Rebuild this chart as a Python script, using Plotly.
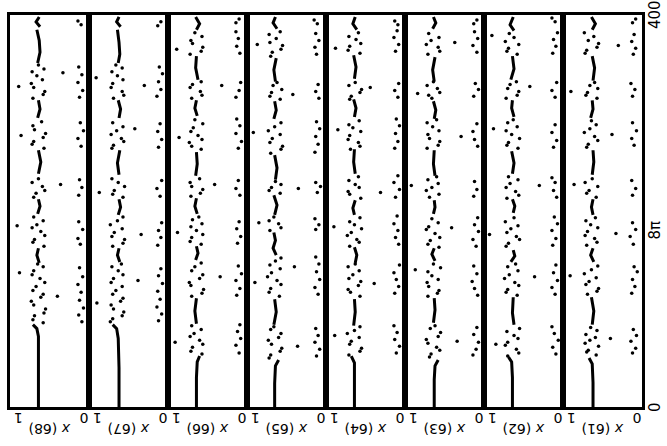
import plotly.graph_objects as go
from plotly.subplots import make_subplots

# panels, left to right
panel_names = ["68", "67", "66", "65", "64", "63", "62", "61"]

# time-axis tick labels
t_tickvals = [0, 180, 400]
t_ticktext = ["0", "8\u03c0", "400"]

# value-axis tick labels (per panel)
v_tickvals = [0.95, 0.12]
v_ticktext = ["1", "0"]

# main (slow) trace of each unit: (t, value), None = gap
main_61 = [(0,0.62),(25,0.62),(44,0.63),(50,0.67),None,(84,0.63),(98,0.61),(112,0.64),None,(148,0.61),(155,0.65),(162,0.62),None,(196,0.62),(204,0.64),(212,0.62),None,(237,0.63),(250,0.61),(262,0.62),None,(295,0.65),(304,0.62),(313,0.63),None,(333,0.62),(346,0.60),(358,0.63),None,(385,0.63),(391,0.59),(398,0.64)]
main_62 = [(0,0.64),(30,0.64),(46,0.65),(51,0.69),None,(84,0.62),(96,0.64),(112,0.63),None,(148,0.66),(154,0.61),(160,0.63),None,(198,0.63),(205,0.61),(212,0.64),None,(238,0.64),(249,0.62),(261,0.65),None,(296,0.62),(305,0.65),(313,0.64),None,(334,0.66),(345,0.62),(358,0.64),None,(384,0.62),(390,0.67),(398,0.63)]
main_63 = [(0,0.63),(28,0.63),(42,0.62),(48,0.58),None,(86,0.64),(99,0.62),(111,0.63),None,(149,0.62),(156,0.66),(162,0.63),None,(197,0.64),(204,0.62),(211,0.63),None,(236,0.62),(248,0.64),(262,0.63),None,(294,0.63),(303,0.61),(312,0.64),None,(332,0.63),(344,0.65),(357,0.62),None,(386,0.65),(392,0.61),(398,0.64)]
main_64 = [(0,0.64),(26,0.64),(45,0.64),(52,0.68),None,(83,0.65),(97,0.63),(110,0.64),None,(147,0.63),(155,0.61),(163,0.64),None,(196,0.64),(203,0.66),(211,0.63),None,(238,0.63),(250,0.65),(263,0.64),None,(296,0.64),(305,0.62),(314,0.65),None,(335,0.64),(347,0.62),(359,0.65),None,(385,0.61),(391,0.66),(398,0.63)]
main_65 = [(0,0.65),(24,0.65),(42,0.64),(48,0.60),None,(84,0.66),(97,0.63),(110,0.65),None,(155,0.63),(162,0.67),(170,0.64),(178,0.66),None,(196,0.65),(206,0.62),(216,0.66),None,(232,0.64),(244,0.62),(257,0.65),None,(294,0.66),(303,0.63),(312,0.65),None,(332,0.64),(344,0.66),(356,0.63),None,(386,0.62),(392,0.67),(398,0.64)]
main_66 = [(0,0.64),(30,0.64),(46,0.63),(52,0.60),None,(85,0.64),(98,0.66),(111,0.64),None,(150,0.65),(157,0.62),(164,0.64),None,(197,0.63),(205,0.66),(213,0.64),None,(236,0.65),(248,0.63),(260,0.64),None,(297,0.63),(305,0.66),(313,0.64),None,(334,0.62),(346,0.65),(358,0.64),None,(385,0.64),(391,0.60),(398,0.65)]
main_67 = [(0,0.62),(40,0.62),(70,0.63),(80,0.65),(84,0.70),None,(148,0.61),(155,0.64),(162,0.62),None,(196,0.63),(204,0.60),(212,0.62),None,(237,0.62),(249,0.64),(262,0.61),None,(295,0.62),(304,0.60),(313,0.63),None,(351,0.63),(360,0.61),(372,0.62),(385,0.64),None,(388,0.60),(393,0.65),(398,0.62)]
main_68 = [(0,0.64),(40,0.64),(72,0.64),(80,0.66),(84,0.71),None,(147,0.63),(155,0.66),(162,0.64),None,(197,0.65),(205,0.62),(212,0.64),None,(238,0.64),(250,0.61),(262,0.64),None,(295,0.65),(304,0.62),(313,0.64),None,(351,0.65),(362,0.62),(374,0.63),(385,0.66),None,(388,0.62),(393,0.67),(398,0.63)]

# scattered (chaotic) samples of each unit: (t, value)
dots_61 = [(53,0.58),(56,0.70),(58,0.68),(62,0.55),(65,0.72),(68,0.66),(71,0.59),(74,0.71),(78,0.57),(81,0.65),(55,0.12),(60,0.08),(67,0.14),(73,0.07),(79,0.11),(70,0.40),
 (115,0.69),(118,0.57),(121,0.55),(125,0.71),(128,0.67),(132,0.58),(136,0.73),(140,0.64),(144,0.56),(116,0.13),(123,0.09),(130,0.12),(138,0.06),(143,0.10),(134,0.91),
 (165,0.70),(168,0.57),(172,0.60),(175,0.72),(179,0.69),(183,0.56),(186,0.65),(190,0.71),(193,0.59),(166,0.11),(174,0.15),(181,0.08),(188,0.12),(177,0.33),
 (214,0.58),(218,0.70),(221,0.67),(225,0.56),(229,0.72),(233,0.63),(216,0.12),(223,0.08),(231,0.13),(227,0.86),
 (265,0.70),(268,0.68),(272,0.56),(276,0.60),(280,0.73),(284,0.66),(288,0.58),(292,0.64),(267,0.10),(274,0.13),(282,0.07),(290,0.12),(278,0.38),
 (315,0.57),(318,0.71),(321,0.69),(325,0.56),(328,0.66),(331,0.60),(317,0.12),(324,0.09),(330,0.14),(322,0.90),
 (361,0.72),(364,0.70),(367,0.57),(371,0.55),(374,0.68),(378,0.61),(382,0.73),(360,0.11),(366,0.08),(373,0.13),(380,0.10),(369,0.30),
 (392,0.12),(396,0.08)]
dots_62 = [(52,0.70),(55,0.56),(59,0.59),(63,0.73),(66,0.70),(70,0.57),(73,0.62),(77,0.71),(80,0.55),(54,0.09),(61,0.13),(68,0.06),(75,0.11),(82,0.14),(64,0.85),
 (114,0.58),(117,0.72),(120,0.70),(124,0.56),(127,0.61),(131,0.74),(135,0.68),(139,0.57),(143,0.70),(146,0.60),(115,0.10),(122,0.14),(129,0.07),(137,0.12),(145,0.09),(133,0.36),
 (164,0.72),(167,0.69),(171,0.55),(174,0.59),(178,0.71),(182,0.66),(185,0.57),(189,0.73),(193,0.62),(165,0.13),(172,0.09),(180,0.14),(187,0.07),(194,0.11),(176,0.93),
 (213,0.71),(216,0.56),(220,0.60),(224,0.72),(228,0.67),(232,0.57),(235,0.69),(214,0.08),(221,0.12),(229,0.10),(234,0.14),(226,0.30),
 (264,0.57),(267,0.71),(270,0.69),(274,0.55),(278,0.65),(282,0.72),(286,0.58),(290,0.70),(293,0.63),(265,0.12),(272,0.08),(280,0.14),(288,0.10),(284,0.88),
 (315,0.72),(318,0.58),(322,0.56),(325,0.70),(329,0.67),(332,0.59),(316,0.10),(323,0.14),(331,0.08),(327,0.42),
 (360,0.58),(363,0.71),(366,0.69),(370,0.56),(373,0.73),(377,0.62),(381,0.68),(361,0.13),(368,0.09),(375,0.12),(382,0.07),(379,0.90),
 (393,0.10),(397,0.14)]
dots_63 = [(51,0.69),(54,0.67),(58,0.56),(61,0.60),(65,0.71),(69,0.73),(72,0.58),(76,0.55),(80,0.68),(83,0.62),(53,0.14),(59,0.10),(66,0.07),(74,0.13),(81,0.09),(67,0.34),
 (113,0.71),(116,0.59),(119,0.57),(123,0.70),(127,0.72),(130,0.58),(134,0.66),(138,0.71),(142,0.55),(146,0.64),(114,0.08),(121,0.12),(128,0.15),(136,0.09),(144,0.13),(140,0.87),
 (163,0.57),(166,0.71),(170,0.68),(173,0.56),(177,0.62),(181,0.73),(184,0.70),(188,0.58),(192,0.66),(164,0.10),(171,0.14),(179,0.07),(186,0.12),(193,0.08),(183,0.41),
 (214,0.69),(217,0.57),(221,0.73),(224,0.66),(228,0.58),(232,0.71),(235,0.60),(215,0.13),(222,0.09),(230,0.12),(226,0.92),
 (264,0.72),(267,0.58),(271,0.56),(274,0.69),(278,0.71),(282,0.57),(286,0.65),(290,0.72),(293,0.60),(266,0.08),(273,0.12),(281,0.14),(289,0.09),(276,0.29),
 (315,0.66),(318,0.70),(321,0.56),(325,0.59),(328,0.72),(332,0.64),(317,0.13),(324,0.07),(330,0.11),(320,0.84),
 (360,0.71),(363,0.56),(367,0.58),(370,0.73),(374,0.67),(377,0.57),(381,0.70),(362,0.09),(369,0.14),(376,0.08),(383,0.12),(372,0.37),
 (391,0.13),(395,0.09)]
dots_64 = [(53,0.71),(57,0.57),(60,0.55),(64,0.70),(67,0.68),(71,0.58),(75,0.73),(78,0.64),(82,0.57),(55,0.11),(62,0.07),(69,0.13),(76,0.10),(83,0.14),(73,0.89),
 (113,0.57),(117,0.69),(120,0.72),(124,0.59),(128,0.56),(131,0.71),(135,0.66),(139,0.58),(143,0.72),(146,0.63),(116,0.13),(123,0.08),(130,0.11),(137,0.14),(145,0.07),(126,0.39),
 (164,0.70),(168,0.58),(171,0.61),(175,0.73),(178,0.68),(182,0.55),(186,0.64),(189,0.70),(193,0.57),(166,0.08),(173,0.12),(180,0.09),(187,0.14),(195,0.10),(184,0.90),
 (213,0.56),(217,0.70),(220,0.72),(224,0.58),(227,0.63),(231,0.71),(235,0.59),(214,0.12),(222,0.07),(229,0.14),(236,0.09),(219,0.31),
 (263,0.69),(266,0.57),(270,0.59),(273,0.72),(277,0.70),(281,0.56),(285,0.66),(288,0.71),(292,0.58),(264,0.13),(271,0.09),(279,0.12),(287,0.07),(294,0.11),(283,0.85),
 (314,0.70),(317,0.68),(321,0.57),(324,0.55),(328,0.71),(331,0.63),(316,0.09),(323,0.13),(330,0.08),(326,0.44),
 (361,0.57),(364,0.72),(368,0.70),(371,0.56),(375,0.62),(378,0.71),(382,0.59),(363,0.12),(370,0.08),(377,0.14),(384,0.10),(366,0.88),
 (390,0.09),(394,0.13)]
dots_65 = [(50,0.72),(53,0.70),(57,0.58),(60,0.56),(64,0.69),(68,0.73),(71,0.60),(75,0.57),(79,0.70),(82,0.66),(52,0.12),(59,0.08),(66,0.14),(73,0.10),(80,0.13),(62,0.36),
 (113,0.59),(117,0.72),(121,0.70),(125,0.57),(129,0.62),(133,0.74),(137,0.69),(141,0.58),(145,0.71),(149,0.64),(152,0.57),(115,0.10),(122,0.14),(130,0.08),(138,0.12),(146,0.09),(153,0.13),(127,0.90),(143,0.40),
 (180,0.71),(183,0.57),(187,0.60),(190,0.72),(194,0.66),(181,0.13),(186,0.09),(192,0.14),(188,0.85),
 (218,0.58),(221,0.72),(224,0.69),(227,0.57),(230,0.64),(219,0.11),(225,0.07),(229,0.13),(223,0.35),
 (259,0.70),(263,0.57),(266,0.55),(270,0.71),(274,0.68),(278,0.58),(282,0.73),(286,0.65),(290,0.57),(260,0.14),(268,0.10),(276,0.13),(284,0.08),(291,0.12),(280,0.92),
 (314,0.58),(317,0.71),(321,0.69),(324,0.56),(328,0.67),(331,0.62),(315,0.09),(322,0.13),(329,0.10),(319,0.42),
 (358,0.70),(362,0.68),(365,0.57),(369,0.55),(372,0.71),(376,0.63),(380,0.72),(383,0.58),(360,0.12),(367,0.14),(374,0.09),(381,0.13),(370,0.87),
 (391,0.11),(395,0.15)]
dots_66 = [(54,0.57),(57,0.71),(61,0.69),(64,0.56),(68,0.60),(72,0.72),(75,0.67),(79,0.58),(83,0.70),(55,0.10),(63,0.14),(70,0.08),(77,0.12),(84,0.09),(66,0.91),
 (113,0.70),(116,0.57),(120,0.55),(124,0.71),(127,0.73),(131,0.60),(135,0.56),(139,0.70),(143,0.66),(147,0.58),(114,0.13),(121,0.09),(129,0.14),(136,0.07),(144,0.11),(133,0.34),
 (166,0.58),(169,0.72),(173,0.70),(176,0.56),(180,0.64),(184,0.71),(187,0.57),(191,0.69),(194,0.61),(167,0.12),(174,0.08),(182,0.13),(189,0.10),(178,0.88),
 (215,0.71),(218,0.59),(222,0.56),(225,0.70),(229,0.72),(233,0.60),(216,0.09),(223,0.14),(231,0.11),(227,0.41),
 (263,0.58),(266,0.70),(270,0.73),(273,0.57),(277,0.62),(281,0.71),(285,0.68),(289,0.56),(293,0.66),(264,0.11),(271,0.07),(279,0.14),(287,0.09),(294,0.13),(275,0.86),
 (315,0.70),(318,0.57),(322,0.59),(326,0.72),(329,0.69),(332,0.58),(316,0.14),(323,0.10),(331,0.08),(328,0.32),
 (360,0.72),(363,0.58),(367,0.56),(371,0.69),(374,0.71),(378,0.57),(382,0.66),(361,0.09),(368,0.13),(376,0.11),(383,0.14),(365,0.89),
 (392,0.14),(396,0.10)]
dots_67 = [(87,0.73),(90,0.70),(93,0.58),(97,0.56),(100,0.69),(104,0.72),(108,0.60),(111,0.57),(115,0.70),(119,0.66),(123,0.58),(127,0.72),(131,0.69),(135,0.57),(139,0.63),(143,0.71),(146,0.59),(88,0.12),(95,0.08),(102,0.14),(110,0.10),(118,0.13),(126,0.07),(134,0.12),(141,0.09),(106,0.90),(129,0.38),
 (164,0.70),(167,0.57),(171,0.55),(174,0.71),(178,0.68),(182,0.58),(186,0.73),(190,0.64),(194,0.57),(165,0.13),(173,0.09),(180,0.12),(188,0.08),(176,0.34),
 (214,0.57),(217,0.70),(221,0.68),(225,0.55),(229,0.63),(233,0.71),(215,0.10),(223,0.14),(231,0.08),(219,0.87),
 (264,0.71),(267,0.69),(271,0.56),(274,0.59),(278,0.72),(282,0.65),(286,0.57),(290,0.70),(265,0.12),(273,0.08),(281,0.13),(289,0.10),(284,0.42),
 (315,0.69),(318,0.56),(322,0.58),(326,0.72),(330,0.70),(334,0.57),(338,0.64),(342,0.71),(346,0.58),(349,0.66),(317,0.14),(324,0.09),(332,0.12),(340,0.07),(347,0.11),(336,0.91),(328,0.30),
 (389,0.13),(393,0.09)]
dots_68 = [(86,0.58),(89,0.71),(93,0.69),(96,0.57),(100,0.55),(104,0.70),(108,0.73),(112,0.61),(115,0.58),(119,0.71),(123,0.67),(127,0.56),(131,0.62),(135,0.72),(139,0.70),(143,0.58),(146,0.65),(87,0.09),(94,0.13),(101,0.07),(109,0.12),(117,0.10),(125,0.14),(133,0.08),(142,0.12),(113,0.40),(137,0.88),
 (164,0.57),(168,0.71),(171,0.69),(175,0.56),(179,0.61),(183,0.72),(186,0.66),(190,0.58),(194,0.70),(166,0.11),(172,0.14),(181,0.08),(189,0.13),(185,0.91),
 (214,0.70),(218,0.67),(221,0.56),(225,0.59),(229,0.72),(233,0.64),(216,0.13),(224,0.09),(232,0.12),(227,0.36),
 (264,0.57),(268,0.72),(271,0.70),(275,0.58),(279,0.55),(283,0.69),(287,0.71),(291,0.60),(266,0.10),(274,0.14),(282,0.07),(290,0.11),(277,0.86),
 (315,0.71),(319,0.58),(322,0.56),(326,0.70),(330,0.73),(334,0.59),(338,0.66),(342,0.72),(345,0.57),(349,0.64),(316,0.12),(323,0.08),(331,0.14),(339,0.09),(347,0.13),(327,0.89),(341,0.33),
 (390,0.10),(394,0.14)]

mains = {"61": main_61, "62": main_62, "63": main_63, "64": main_64,
         "65": main_65, "66": main_66, "67": main_67, "68": main_68}
dots = {"61": dots_61, "62": dots_62, "63": dots_63, "64": dots_64,
        "65": dots_65, "66": dots_66, "67": dots_67, "68": dots_68}

n = len(panel_names)
fig = make_subplots(rows=1, cols=n, shared_yaxes=True, horizontal_spacing=0)

for i, name in enumerate(panel_names, start=1):
    m = mains[name]
    mv = [p[1] if p else None for p in m]
    mt = [p[0] if p else None for p in m]
    fig.add_trace(go.Scatter(x=mv, y=mt, mode="lines",
                             line=dict(color="black", width=3),
                             connectgaps=False, showlegend=False,
                             hoverinfo="skip"), row=1, col=i)
    d = dots[name]
    fig.add_trace(go.Scatter(x=[p[1] for p in d], y=[p[0] for p in d],
                             mode="markers",
                             marker=dict(color="black", size=3.5),
                             showlegend=False, hoverinfo="skip"),
                  row=1, col=i)
    fig.update_xaxes(range=[1.0, 0.0], showgrid=False, zeroline=False,
                     showline=True, linecolor="black", linewidth=2.5,
                     mirror=True, ticks="", tickvals=v_tickvals,
                     ticktext=v_ticktext, tickangle=180, automargin=False,
                     tickfont=dict(size=14, color="black"),
                     row=1, col=i)
    fig.update_yaxes(range=[0, 400], showgrid=False, zeroline=False,
                     showline=True, linecolor="black", linewidth=2.5,
                     mirror=True, ticks="", showticklabels=False,
                     automargin=False, row=1, col=i)
    fig.add_annotation(text="<i>x</i> (" + name + ")", textangle=180,
                       xref="x" + ("" if i == 1 else str(i)) + " domain",
                       x=0.5, yref="paper", y=-0.058, yanchor="middle",
                       showarrow=False,
                       font=dict(size=14, color="black",
                                 family="DejaVu Sans"))

# time-axis labels, rotated, on the right-hand side
for tv, tt in zip(t_tickvals, t_ticktext):
    fig.add_annotation(text=tt, textangle=-90, xref="paper", x=1,
                       xanchor="center", xshift=13, yref="y", y=tv,
                       yanchor="middle", showarrow=False,
                       font=dict(size=15, color="black",
                                 family="DejaVu Sans"))

fig.update_layout(width=667, height=446,
                  margin=dict(l=10, r=25, t=15, b=39),
                  paper_bgcolor="white", plot_bgcolor="white",
                  font=dict(family="DejaVu Sans", color="black"))

# remove the browser's default page margin so the figure fills the window
fig.write_html("out.html", config={"displayModeBar": False},
               post_script="document.body.style.margin='0';")
